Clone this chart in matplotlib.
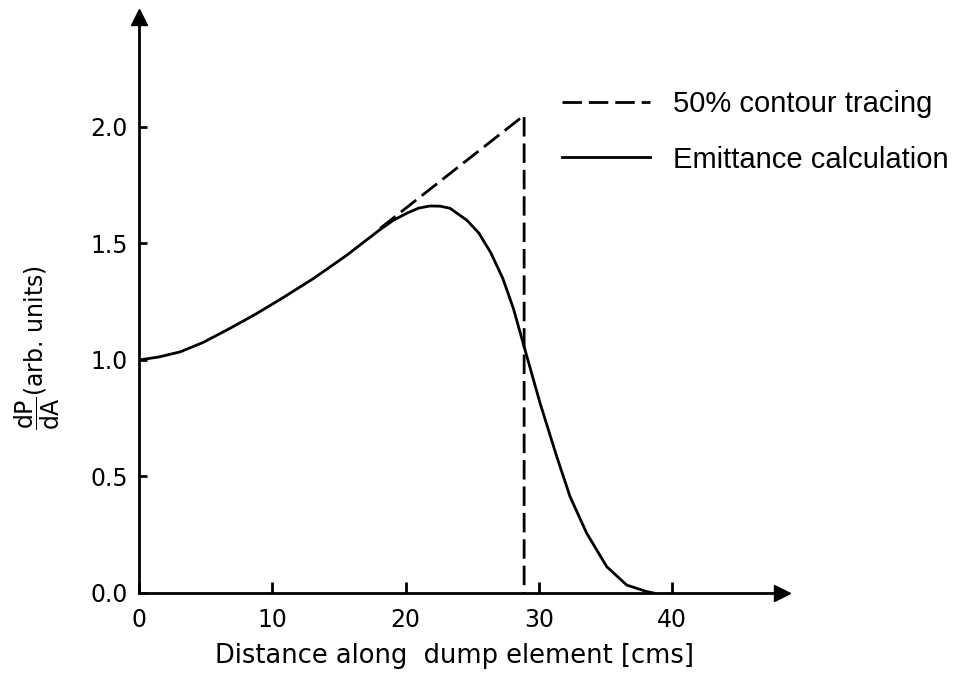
import matplotlib
matplotlib.use("Agg")
import matplotlib.pyplot as plt

# emittance calculation curve
calc_x = [0.0, 1.5, 3.1, 4.8, 6.8, 8.7, 10.6, 13.1, 15.6, 17.0, 18.1, 19.1,
          20.1, 21.0, 21.84, 22.6, 23.34, 24.6, 25.5, 26.4, 27.3, 28.1, 28.9,
          30.1, 31.35, 32.35, 33.6, 35.1, 36.6, 38.1, 38.6]
calc_y = [1.0, 1.013, 1.035, 1.075, 1.135, 1.195, 1.26, 1.35, 1.45, 1.512,
          1.56, 1.60, 1.63, 1.652, 1.661, 1.66, 1.651, 1.60, 1.545, 1.46,
          1.35, 1.22, 1.057, 0.814, 0.585, 0.413, 0.256, 0.113, 0.034, 0.006,
          0.0]

# 50% contour tracing
trace_x = [18.1, 20.1, 28.9, 28.9]
trace_y = [1.565, 1.655, 2.05, 0.0]

xticks = [0, 10, 20, 30, 40]
yticks = [0.0, 0.5, 1.0, 1.5, 2.0]

fig = plt.figure(figsize=(9.64, 6.77), dpi=100)
ax = fig.add_axes([0.14419, 0.12408, 0.66701, 0.85081])

ax.plot(trace_x, trace_y, color="black", lw=2, dashes=(7, 2.5),
        label="50% contour tracing")
ax.plot(calc_x, calc_y, color="black", lw=2, label="Emittance calculation")

ax.set_xlim(0, 48.25)
ax.set_ylim(0, 2.472)
ax.spines["top"].set_visible(False)
ax.spines["right"].set_visible(False)
ax.spines["left"].set_linewidth(2)
ax.spines["bottom"].set_linewidth(2)

# arrow heads on the axes
ax.plot(1, 0, ">", color="black", ms=11, transform=ax.transAxes, clip_on=False)
ax.plot(0, 1, "^", color="black", ms=11, transform=ax.transAxes, clip_on=False)

ax.set_xticks(xticks)
ax.set_xticklabels([str(t) for t in xticks])
ax.set_yticks(yticks)
ax.set_yticklabels(["%.1f" % t for t in yticks])
ax.tick_params(axis="x", direction="in", length=8, width=2, pad=11, labelsize=17)
ax.tick_params(axis="y", direction="in", length=6, width=2, pad=8, labelsize=17)

ax.set_xlabel("Distance along  dump element [cms]", fontsize=18.5)
ax.xaxis.set_label_coords(0.49, -0.087)

fig.text(37 / 964, 1 - 348 / 677, r"$\dfrac{\mathrm{dP}}{\mathrm{dA}}$(arb. units)",
         rotation=90, ha="center", va="center", fontsize=17)

ax.legend(loc="upper left", bbox_to_anchor=(562 / 964, 1 - 90 / 677),
          bbox_transform=fig.transFigure, frameon=False, borderpad=0,
          borderaxespad=0, handlelength=3.0, handletextpad=0.8,
          labelspacing=0.95, prop={"family": "Liberation Sans", "size": 21})

plt.savefig("out.png", dpi=100)
